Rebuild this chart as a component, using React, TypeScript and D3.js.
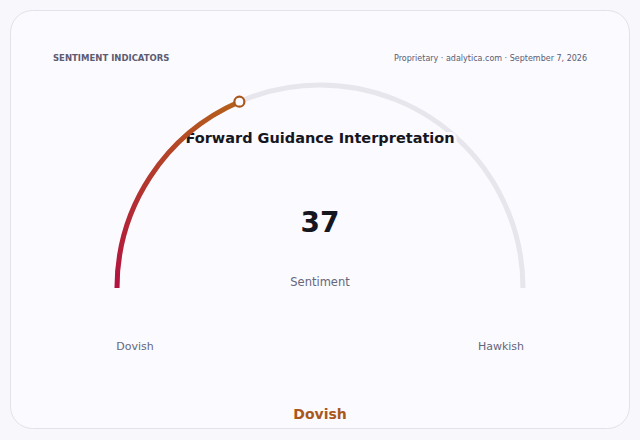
import { useEffect, useRef } from "react";
import * as d3 from "d3";

// gauge data
const value = 37;
const domain: [number, number] = [0, 100];
const chartTitle = "Forward Guidance Interpretation";
const valueLabel = "Sentiment";
const endLabels = ["Dovish", "Hawkish"];
const verdict = "Dovish";
const header = "SENTIMENT INDICATORS";
const source = "Proprietary · adalytica.com · September 7, 2026";
const gradientStops = ["#b3123f", "#b5611a"];

const W = 640;
const H = 440;

export default function App() {
  const svgRef = useRef<SVGSVGElement>(null);

  useEffect(() => {
    if (!svgRef.current) return;
    const svg = d3.select(svgRef.current);
    svg.selectAll("*").remove();
    const font = "'DejaVu Sans', sans-serif";
    const cardFill = "#fafaff";

    svg.append("rect").attr("width", W).attr("height", H).attr("fill", "#f8f8fc");

    // card
    svg
      .append("rect")
      .attr("x", 10.5)
      .attr("y", 10.5)
      .attr("width", 619)
      .attr("height", 418)
      .attr("rx", 22)
      .attr("fill", cardFill)
      .attr("stroke", "#e2e2ea")
      .attr("stroke-width", 1);

    svg
      .append("text")
      .attr("x", 53)
      .attr("y", 61)
      .style("font-family", font)
      .style("font-size", "8.5px")
      .style("font-weight", "700")
      .style("fill", "#5c5c72")
      .text(header);

    svg
      .append("text")
      .attr("x", 587)
      .attr("y", 61)
      .attr("text-anchor", "end")
      .style("font-family", font)
      .style("font-size", "8px")
      .style("fill", "#5c5c72")
      .text(source);

    const cx = 320;
    const cy = 288;
    const r = 203;

    // angle: 0 at left (dovish), PI at right
    const a = d3.scaleLinear().domain(domain).range([-Math.PI / 2, Math.PI / 2]);
    const arc = d3
      .arc<{ s: number; e: number }>()
      .innerRadius(r)
      .outerRadius(r)
      .startAngle((d) => d.s)
      .endAngle((d) => d.e);

    const g = svg.append("g").attr("transform", `translate(${cx},${cy})`);

    // track
    g.append("path")
      .attr("d", arc({ s: a(domain[0]), e: a(domain[1]) }))
      .attr("fill", "none")
      .attr("stroke", "#e6e6ec")
      .attr("stroke-width", 5)
      .attr("stroke-linecap", "round");

    // title with halo over the track
    g.append("text")
      .attr("x", 0)
      .attr("y", -145)
      .attr("text-anchor", "middle")
      .style("font-family", font)
      .style("font-size", "14.5px")
      .style("font-weight", "700")
      .style("fill", "#16161e")
      .style("stroke", cardFill)
      .style("stroke-width", 6)
      .style("stroke-linejoin", "round")
      .style("paint-order", "stroke")
      .text(chartTitle);

    const defs = svg.append("defs");
    const endA = a(value);
    const ex = r * Math.sin(endA);
    const ey = -r * Math.cos(endA);
    const grad = defs
      .append("linearGradient")
      .attr("id", "gaugeGrad")
      .attr("gradientUnits", "userSpaceOnUse")
      .attr("x1", -r)
      .attr("y1", 0)
      .attr("x2", ex)
      .attr("y2", ey);
    grad.append("stop").attr("offset", "0%").attr("stop-color", gradientStops[0]);
    grad.append("stop").attr("offset", "100%").attr("stop-color", gradientStops[1]);

    g.append("path")
      .attr("d", arc({ s: a(domain[0]), e: endA }))
      .attr("fill", "none")
      .attr("stroke", "url(#gaugeGrad)")
      .attr("stroke-width", 5)
      .attr("stroke-linecap", "round");

    g.append("circle")
      .attr("cx", ex)
      .attr("cy", ey)
      .attr("r", 5)
      .attr("fill", cardFill)
      .attr("stroke", "#a9571a")
      .attr("stroke-width", 2.2);

    g.append("text")
      .attr("x", 0)
      .attr("y", -56)
      .attr("text-anchor", "middle")
      .style("font-family", font)
      .style("font-size", "28px")
      .style("font-weight", "700")
      .style("fill", "#16161e")
      .text(String(value));

    g.append("text")
      .attr("x", 0)
      .attr("y", -2)
      .attr("text-anchor", "middle")
      .style("font-family", font)
      .style("font-size", "11.5px")
      .style("fill", "#66667a")
      .text(valueLabel);

    g.append("text")
      .attr("x", -185)
      .attr("y", 62)
      .attr("text-anchor", "middle")
      .style("font-family", font)
      .style("font-size", "11px")
      .style("fill", "#66667a")
      .text(endLabels[0]);

    g.append("text")
      .attr("x", 181)
      .attr("y", 62)
      .attr("text-anchor", "middle")
      .style("font-family", font)
      .style("font-size", "11px")
      .style("fill", "#66667a")
      .text(endLabels[1]);

    svg
      .append("text")
      .attr("x", cx)
      .attr("y", 419)
      .attr("text-anchor", "middle")
      .style("font-family", font)
      .style("font-size", "14px")
      .style("font-weight", "700")
      .style("fill", "#a9571a")
      .text(verdict);
  }, []);

  return (
    <div style={{ position: "fixed", left: 0, top: 0, width: W, height: H }}>
      <svg ref={svgRef} width={W} height={H} style={{ display: "block" }} />
    </div>
  );
}
